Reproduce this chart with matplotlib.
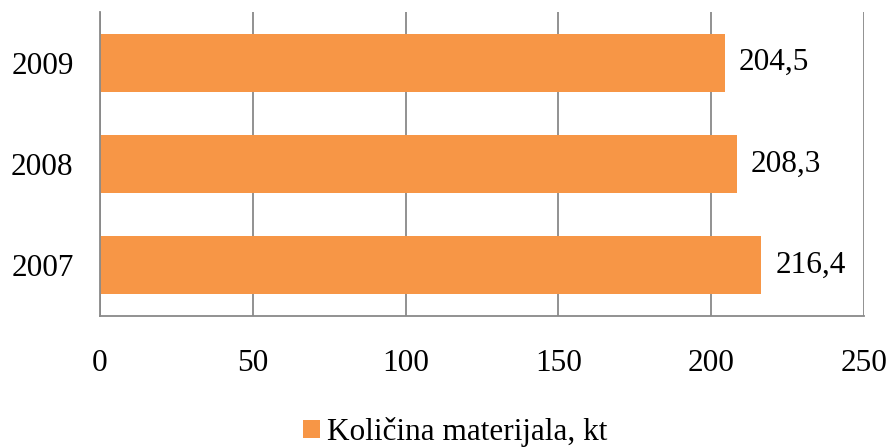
import matplotlib.pyplot as plt

years = ["2007", "2008", "2009"]
values = [216.4, 208.3, 204.5]
value_labels = ["216,4", "208,3", "204,5"]
series_name = "Količina materijala, kt"

plt.rcParams["font.family"] = ["Liberation Serif", "DejaVu Serif"]

fig = plt.figure(figsize=(8.91, 4.47), dpi=100)
ax = fig.add_axes([100 / 891, 1 - 316 / 447, 764 / 891, 304 / 447])

color = "#F79646"
grid_color = "#898989"
fs = 22.5

bars = ax.barh(range(len(years)), values, height=0.57, color=color, label=series_name, zorder=2)
for bar, lab in zip(bars, value_labels):
    ax.annotate(lab, (bar.get_width(), bar.get_y() + bar.get_height() / 2),
                xytext=(10, 0), textcoords="offset points", va="center", ha="left", fontsize=fs)

ax.set_xlim(0, 250)
ax.set_ylim(-0.5, 2.5)
ax.set_xticks([0, 50, 100, 150, 200, 250])
ax.set_yticks(range(len(years)))
ax.set_yticklabels(years)
ax.tick_params(axis="both", length=0, labelsize=fs)
ax.tick_params(axis="x", pad=24)
ax.tick_params(axis="y", pad=19)

ax.xaxis.grid(True, color=grid_color, linewidth=1.3, zorder=0)
ax.set_axisbelow(True)
for side in ["top", "right"]:
    ax.spines[side].set_visible(False)
for side in ["left", "bottom"]:
    ax.spines[side].set_color(grid_color)
    ax.spines[side].set_linewidth(1.3)

fig.legend(handles=[bars], labels=[series_name], loc="center", bbox_to_anchor=(455 / 891, 1 - 432 / 447),
           frameon=False, fontsize=fs, handlelength=0.55, handleheight=0.55, handletextpad=0.2)

fig.savefig("out.png", dpi=100)
